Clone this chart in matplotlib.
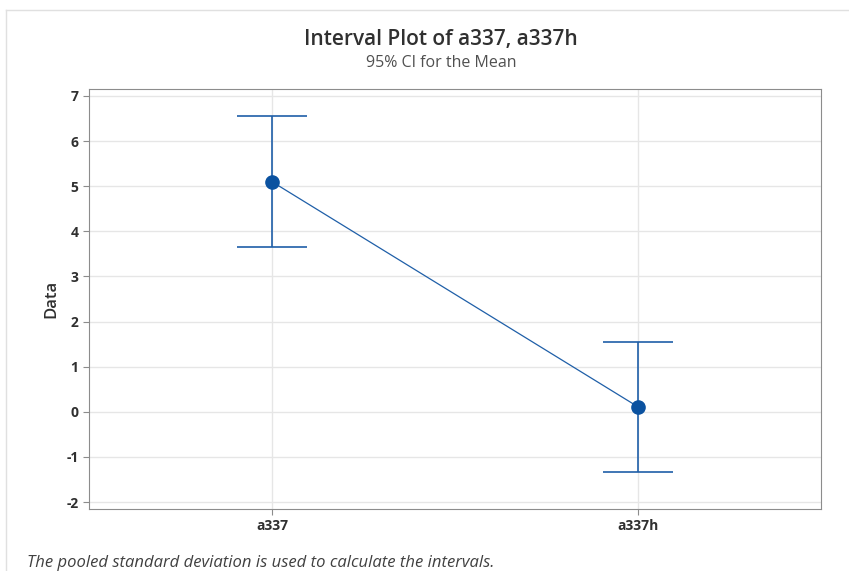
import numpy as np
import matplotlib.pyplot as plt
from matplotlib.lines import Line2D

plt.rcParams['font.family'] = ['Open Sans', 'DejaVu Sans']
plt.rcParams['axes.unicode_minus'] = False

# data
categories = ["a337", "a337h"]
means = [5.10, 0.11]
upper = [6.56, 1.55]
lower = [3.66, -1.33]

BLUE = "#1f5fa8"
DARK_BLUE = "#0b52a0"

fig = plt.figure(figsize=(8.49, 5.71), dpi=100)
ax = fig.add_axes([89 / 849, 1 - 509 / 571, (821 - 89) / 849, (509 - 89) / 571])

x = np.arange(len(categories))
means = np.array(means)
yerr = np.vstack([means - np.array(lower), np.array(upper) - means])

ax.errorbar(x, means, yerr=yerr, fmt="none", ecolor=BLUE, elinewidth=1.2,
            capsize=25.5, capthick=1.2, zorder=3)
ax.plot(x, means, color=BLUE, lw=0.9, zorder=4)
ax.plot(x, means, "o", color=DARK_BLUE, ms=9.5, zorder=5)

ax.set_xlim(-0.5, 1.5)
ax.set_ylim(-2.155, 7.155)
ax.set_yticks(range(-2, 8))
ax.set_xticks(x)
ax.set_xticklabels(categories, fontweight="bold")
ax.grid(True, color="#e6e6e6", lw=1)
ax.set_axisbelow(True)
for s in ax.spines.values():
    s.set_color("#8c8c8c")
ax.tick_params(colors="#8c8c8c", labelcolor="#303030", labelsize=10, length=4)
for lab in ax.get_yticklabels():
    lab.set_fontweight("bold")
ax.set_ylabel("Data", fontsize=12, color="#303030", labelpad=5, fontweight="semibold")

fig.text(441 / 849, 1 - 40 / 571, "Interval Plot of a337, a337h", ha="center", va="center",
         fontsize=15, color="#303030", fontweight="semibold")
fig.text(441 / 849, 1 - 63 / 571, "95% CI for the Mean", ha="center", va="center",
         fontsize=11.5, color="#505050")
fig.text(27 / 849, 1 - 563 / 571, "The pooled standard deviation is used to calculate the intervals.",
         ha="left", va="center", fontsize=12, style="italic", color="#404040")

# outer panel border
fig.add_artist(Line2D([6 / 849, 1], [1 - 10 / 571] * 2, transform=fig.transFigure,
                      color="#e0e0e0", lw=1))
fig.add_artist(Line2D([6 / 849] * 2, [0, 1 - 10 / 571], transform=fig.transFigure,
                      color="#e0e0e0", lw=1))

fig.savefig("out.png", dpi=100)
